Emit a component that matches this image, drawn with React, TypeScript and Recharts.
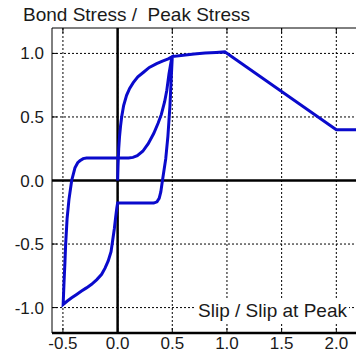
import { LineChart, Line, XAxis, YAxis, CartesianGrid, ReferenceLine } from 'recharts';

// Bond stress - slip loop, normalised by the peak values.
// Each branch is kept as its own slip / stress pair of arrays.
const loadingSlip = [0, 0.004, 0.01, 0.018, 0.027, 0.037, 0.055, 0.082, 0.11, 0.143, 0.185, 0.234, 0.29, 0.357, 0.41, 0.463, 0.5];
const loadingStress = [0, 0.12, 0.25, 0.35, 0.43, 0.5, 0.59, 0.67, 0.725, 0.77, 0.815, 0.85, 0.89, 0.92, 0.94, 0.957, 0.975];

const unloadingSlip = [0.49, 0.478, 0.46, 0.44, 0.41, 0.395, 0.38, 0.36, 0.33, 0.3, 0];
const unloadingStress = [0.8, 0.58, 0.35, 0.17, 0, -0.09, -0.14, -0.168, -0.178, -0.178, -0.178];

const reverseSlip = [-0.008, -0.018, -0.03, -0.045, -0.06, -0.086, -0.115, -0.146, -0.19, -0.238, -0.285, -0.33, -0.375, -0.42, -0.46, -0.498];
const reverseStress = [-0.22, -0.29, -0.38, -0.47, -0.56, -0.633, -0.69, -0.738, -0.78, -0.817, -0.845, -0.87, -0.897, -0.923, -0.948, -0.975];

const reloadSlip = [-0.49, -0.482, -0.475, -0.462, -0.445, -0.42, -0.39, -0.365, -0.345, -0.315, -0.284, 0.1, 0.14, 0.18, 0.23, 0.28, 0.33, 0.37, 0.4, 0.43, 0.45, 0.47, 0.49, 0.5];
const reloadStress = [-0.8, -0.65, -0.5, -0.3, -0.15, 0, 0.1, 0.14, 0.155, 0.172, 0.177, 0.178, 0.182, 0.195, 0.23, 0.29, 0.37, 0.45, 0.52, 0.62, 0.71, 0.84, 0.94, 0.975];

const envelopeSlip = [0.6, 0.7, 0.8, 0.9, 0.98, 2.0, 2.18];
const envelopeStress = [0.985, 0.995, 1.003, 1.008, 1.012, 0.4, 0.4];

const xTicks = [-0.5, 0, 0.5, 1.0, 1.5, 2.0];
const yTicks = [-1.0, -0.5, 0, 0.5, 1.0];

const branches: [number[], number[]][] = [
  [loadingSlip, loadingStress],
  [unloadingSlip, unloadingStress],
  [reverseSlip, reverseStress],
  [reloadSlip, reloadStress],
  [envelopeSlip, envelopeStress],
];

const data = branches.flatMap(([s, t]) => s.map((slip, i) => ({ slip, stress: t[i] })));

const FONT = '"Liberation Sans", Arial, sans-serif';
const PLOT_H = 305;

const XTick = ({ x, y, payload }: any) => (
  <g>
    <line x1={x} x2={x} y1={y} y2={y - 5} stroke="#000" />
    <line x1={x} x2={x} y1={y - PLOT_H} y2={y - PLOT_H + 5} stroke="#000" />
    <text x={x} y={y + 16} textAnchor="middle" fontSize={17} fontFamily={FONT} fill="#1a1a1a">
      {payload.value.toFixed(1)}
    </text>
  </g>
);

const YTick = ({ x, y, payload }: any) => (
  <g>
    <line x1={x} x2={x + 5} y1={y} y2={y} stroke="#000" />
    <text x={x - 8} y={y + 6} textAnchor="end" fontSize={17} fontFamily={FONT} fill="#1a1a1a">
      {payload.value.toFixed(1)}
    </text>
  </g>
);

export default function App() {
  return (
    <div style={{ position: 'absolute', left: 0, top: 0, width: 356, height: 358, background: '#fff' }}>
      <LineChart width={356} height={358} data={data} margin={{ top: 28, right: 0, bottom: 0, left: 0 }}>
        <CartesianGrid stroke="#000" strokeDasharray="2 2" horizontalValues={yTicks} verticalValues={xTicks} />
        <XAxis
          dataKey="slip"
          type="number"
          domain={[-0.6, 2.18]}
          ticks={xTicks}
          height={25}
          tickSize={0}
          tickMargin={0}
          tick={<XTick />}
          axisLine={{ stroke: '#000', strokeWidth: 2.5 }}
          allowDataOverflow
        />
        <YAxis
          type="number"
          domain={[-1.2, 1.2]}
          ticks={yTicks}
          width={52}
          tickSize={0}
          tickMargin={0}
          tick={<YTick />}
          axisLine={{ stroke: '#000', strokeWidth: 1 }}
          allowDataOverflow
        />
        <ReferenceLine y={1.2} stroke="#000" strokeWidth={1} />
        <ReferenceLine x={0} stroke="#000" strokeWidth={2.5} />
        <ReferenceLine y={0} stroke="#000" strokeWidth={2.5} />
        <Line
          dataKey="stress"
          type="linear"
          stroke="#0a0acc"
          strokeWidth={3}
          dot={false}
          isAnimationActive={false}
        />
      </LineChart>
      <svg width={356} height={358} style={{ position: 'absolute', left: 0, top: 0, pointerEvents: 'none' }}>
        <text x={23} y={21} fontSize={19} fontFamily={FONT} fill="#1a1a1a" style={{ whiteSpace: 'pre' }}>
          {'Bond Stress /  Peak Stress'}
        </text>
        <rect x={195} y={299} width={154} height={23} fill="#fff" />
        <text x={347} y={317} textAnchor="end" fontSize={19} fontFamily={FONT} fill="#1a1a1a">
          Slip / Slip at Peak
        </text>
      </svg>
    </div>
  );
}
